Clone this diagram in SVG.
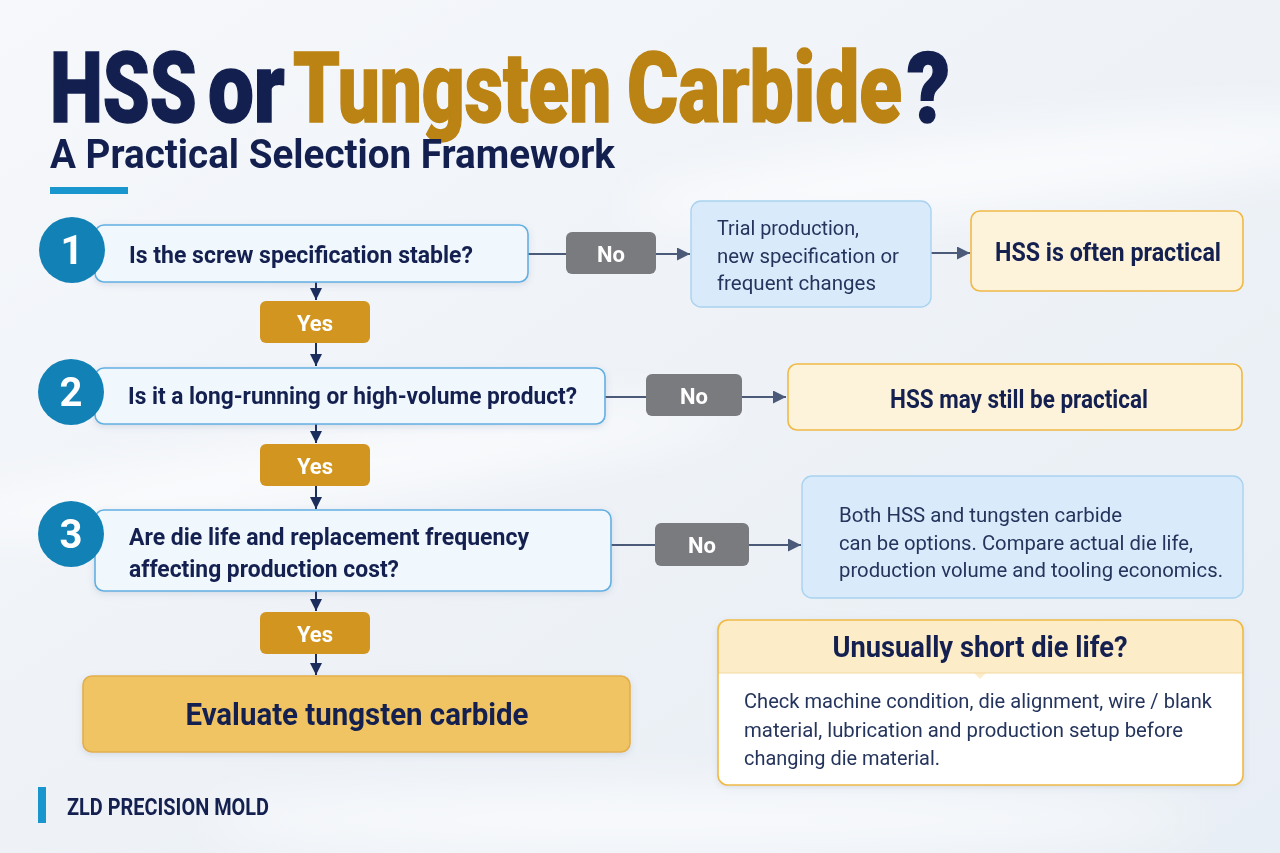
<svg xmlns="http://www.w3.org/2000/svg" width="1280" height="853" viewBox="0 0 1280 853">
<defs>
<linearGradient id="bg" x1="0" y1="0" x2="1" y2="1">
<stop offset="0" stop-color="#f6f8fb"/>
<stop offset="0.5" stop-color="#eef2f7"/>
<stop offset="1" stop-color="#e8eef5"/>
</linearGradient>
<filter id="blur" x="-20%" y="-200%" width="140%" height="500%">
<feGaussianBlur stdDeviation="25"/>
</filter>
<filter id="sh" x="-10%" y="-20%" width="120%" height="150%">
<feDropShadow dx="0" dy="2" stdDeviation="3" flood-color="#5a7090" flood-opacity="0.18"/>
</filter>
<marker id="ah" viewBox="0 0 10 10" refX="10" refY="5" markerWidth="12" markerHeight="12" markerUnits="userSpaceOnUse" orient="auto">
<path d="M0,0 L10,5 L0,10 z" fill="#1b2d5c"/>
</marker>
<marker id="ahg" viewBox="0 0 10 10" refX="10" refY="5" markerWidth="13" markerHeight="13" markerUnits="userSpaceOnUse" orient="auto">
<path d="M0,0 L10,5 L0,10 z" fill="#4a5a78"/>
</marker>
<style>
.tt{font-family:Roboto,"Liberation Sans",sans-serif;font-weight:900;font-size:98px;stroke-width:1.5}
.navy{fill:#13204f;stroke:#13204f}
.gold{fill:#bb8313;stroke:#bb8313}
.q{fill:#f0f7fd;stroke:#62afe2;stroke-width:1.6}
.circ{fill:#1282b6}
.num{font-family:Roboto,"Liberation Sans",sans-serif;font-weight:700;font-size:40px;fill:#fff;text-anchor:middle}
.qt{font-family:Roboto,"Liberation Sans",sans-serif;font-weight:700;font-size:23px;fill:#14204f}
.yes{fill:#d2951f}
.no{fill:#7a7b7e}
.lbl{font-family:Roboto,"Liberation Sans",sans-serif;font-weight:700;font-size:22px;fill:#fff;text-anchor:middle}
.info{fill:#d9ebfa;stroke:#a9d2f0;stroke-width:1.4}
.it{font-family:Roboto,"Liberation Sans",sans-serif;font-weight:400;font-size:21px;fill:#24345c}
.res{fill:#fdf2da;stroke:#f0b945;stroke-width:1.6}
.rt{font-family:Roboto,"Liberation Sans",sans-serif;font-weight:700;font-size:26px;fill:#14204f;text-anchor:middle}
.vl{stroke:#1b2d5c;stroke-width:2;fill:none}
.hl{stroke:#4a5a78;stroke-width:2;fill:none}
</style>
</defs>
<rect width="1280" height="853" fill="url(#bg)"/>
<g filter="url(#blur)" opacity="0.7">
<ellipse cx="320" cy="470" rx="420" ry="30" fill="#ffffff" transform="rotate(-8 320 470)"/>
<ellipse cx="1000" cy="170" rx="380" ry="35" fill="#ffffff" transform="rotate(-6 1000 170)"/>
<ellipse cx="700" cy="820" rx="500" ry="30" fill="#ffffff"/>
</g>

<g id="title">
<text class="tt navy" transform="translate(50,122) scale(0.745,1)" textLength="197" lengthAdjust="spacingAndGlyphs">HSS</text>
<text class="tt navy" transform="translate(208,122) scale(0.8,1)" textLength="96" lengthAdjust="spacingAndGlyphs">or</text>
<text class="tt gold" transform="translate(293,122) scale(0.73,1)" textLength="436" lengthAdjust="spacingAndGlyphs">Tungsten</text>
<text class="tt gold" transform="translate(627,122) scale(0.77,1)" textLength="357" lengthAdjust="spacingAndGlyphs">Carbide</text>
<text class="tt navy" transform="translate(907,122) scale(0.88,1)" textLength="49" lengthAdjust="spacingAndGlyphs">?</text>
<text x="50" y="168" font-family="Roboto,'Liberation Sans',sans-serif" font-weight="700" font-size="41" fill="#13204f" textLength="565" lengthAdjust="spacingAndGlyphs">A Practical Selection Framework</text>
<rect x="50" y="187" width="78" height="7" fill="#1a96cf"/>
</g>

<g id="connectors">
<line class="vl" x1="316" y1="282" x2="316" y2="300" marker-end="url(#ah)"/>
<line class="vl" x1="316" y1="343" x2="316" y2="366" marker-end="url(#ah)"/>
<line class="vl" x1="316" y1="424" x2="316" y2="443" marker-end="url(#ah)"/>
<line class="vl" x1="316" y1="486" x2="316" y2="509" marker-end="url(#ah)"/>
<line class="vl" x1="316" y1="591" x2="316" y2="611" marker-end="url(#ah)"/>
<line class="vl" x1="316" y1="654" x2="316" y2="675" marker-end="url(#ah)"/>
<line class="hl" x1="528" y1="254" x2="566" y2="254"/>
<line class="hl" x1="656" y1="254" x2="690" y2="254" marker-end="url(#ahg)"/>
<line class="hl" x1="931" y1="253" x2="970" y2="253" marker-end="url(#ahg)"/>
<line class="hl" x1="605" y1="397" x2="646" y2="397"/>
<line class="hl" x1="742" y1="397" x2="786" y2="397" marker-end="url(#ahg)"/>
<line class="hl" x1="611" y1="545" x2="655" y2="545"/>
<line class="hl" x1="749" y1="545" x2="801" y2="545" marker-end="url(#ahg)"/>
</g>

<g id="q1">
<rect class="q" x="95" y="225" width="433" height="57" rx="9" filter="url(#sh)"/>
<circle class="circ" cx="72" cy="250" r="33"/>
<text class="num" x="72" y="264">1</text>
<text class="qt" x="129" y="263" textLength="344" lengthAdjust="spacingAndGlyphs">Is the screw specification stable?</text>
</g>
<g id="no1">
<rect class="no" x="566" y="232" width="90" height="42" rx="6"/>
<text class="lbl" x="611" y="262">No</text>
</g>
<g id="trial">
<rect class="info" x="691" y="201" width="240" height="106" rx="10"/>
<text class="it" x="717" y="235" textLength="142" lengthAdjust="spacingAndGlyphs">Trial production,</text>
<text class="it" x="717" y="263" textLength="182" lengthAdjust="spacingAndGlyphs">new specification or</text>
<text class="it" x="717" y="290" textLength="159" lengthAdjust="spacingAndGlyphs">frequent changes</text>
</g>
<g id="hss1">
<rect class="res" x="971" y="211" width="272" height="80" rx="9"/>
<text class="rt" x="1108" y="261" textLength="226" lengthAdjust="spacingAndGlyphs">HSS is often practical</text>
</g>
<g id="yes1">
<rect class="yes" x="260" y="301" width="110" height="42" rx="6"/>
<text class="lbl" x="315" y="331">Yes</text>
</g>

<g id="q2">
<rect class="q" x="95" y="368" width="510" height="56" rx="9" filter="url(#sh)"/>
<circle class="circ" cx="71" cy="392" r="33"/>
<text class="num" x="71" y="406">2</text>
<text class="qt" x="128" y="404" textLength="449" lengthAdjust="spacingAndGlyphs">Is it a long-running or high-volume product?</text>
</g>
<g id="no2">
<rect class="no" x="646" y="374" width="96" height="42" rx="6"/>
<text class="lbl" x="694" y="404">No</text>
</g>
<g id="hss2">
<rect class="res" x="788" y="364" width="454" height="66" rx="9"/>
<text class="rt" x="1019" y="408" textLength="258" lengthAdjust="spacingAndGlyphs">HSS may still be practical</text>
</g>
<g id="yes2">
<rect class="yes" x="260" y="444" width="110" height="42" rx="6"/>
<text class="lbl" x="315" y="474">Yes</text>
</g>

<g id="q3">
<rect class="q" x="95" y="510" width="516" height="81" rx="9" filter="url(#sh)"/>
<circle class="circ" cx="71" cy="534" r="33"/>
<text class="num" x="71" y="548">3</text>
<text class="qt" x="129" y="545" textLength="400" lengthAdjust="spacingAndGlyphs">Are die life and replacement frequency</text>
<text class="qt" x="129" y="577" textLength="270" lengthAdjust="spacingAndGlyphs">affecting production cost?</text>
</g>
<g id="no3">
<rect class="no" x="655" y="523" width="94" height="43" rx="6"/>
<text class="lbl" x="702" y="553">No</text>
</g>
<g id="both">
<rect class="info" x="802" y="476" width="441" height="122" rx="10"/>
<text class="it" x="839" y="522" textLength="283" lengthAdjust="spacingAndGlyphs">Both HSS and tungsten carbide</text>
<text class="it" x="839" y="550" textLength="354" lengthAdjust="spacingAndGlyphs">can be options. Compare actual die life,</text>
<text class="it" x="839" y="577" textLength="384" lengthAdjust="spacingAndGlyphs">production volume and tooling economics.</text>
</g>
<g id="yes3">
<rect class="yes" x="260" y="612" width="110" height="42" rx="6"/>
<text class="lbl" x="315" y="642">Yes</text>
</g>

<g id="evaluate">
<rect x="83" y="676" width="547" height="76" rx="9" fill="#f0c462" stroke="#e2ae4c" stroke-width="1.6" filter="url(#sh)"/>
<text x="357" y="725" font-family="Roboto,'Liberation Sans',sans-serif" font-weight="700" font-size="32" fill="#14204f" text-anchor="middle" textLength="343" lengthAdjust="spacingAndGlyphs">Evaluate tungsten carbide</text>
</g>

<g id="unusual">
<rect x="718" y="620" width="525" height="165" rx="10" fill="#ffffff" filter="url(#sh)"/>
<path d="M718,673 V630 a10,10 0 0 1 10,-10 H1233 a10,10 0 0 1 10,10 V673 z" fill="#fdecc8"/>
<polygon points="974,673 986,673 980,679" fill="#fdecc8"/>
<line x1="718" y1="673" x2="1243" y2="673" stroke="#f3d9a0" stroke-width="1"/>
<rect x="718" y="620" width="525" height="165" rx="10" fill="none" stroke="#f0b945" stroke-width="1.6"/>
<text x="980" y="657" font-family="Roboto,'Liberation Sans',sans-serif" font-weight="700" font-size="30" fill="#14204f" text-anchor="middle" textLength="295" lengthAdjust="spacingAndGlyphs">Unusually short die life?</text>
<text class="it" x="744" y="708" font-size="21.5" textLength="468" lengthAdjust="spacingAndGlyphs">Check machine condition, die alignment, wire / blank</text>
<text class="it" x="744" y="737" font-size="21.5" textLength="439" lengthAdjust="spacingAndGlyphs">material, lubrication and production setup before</text>
<text class="it" x="744" y="765" font-size="21.5" textLength="196" lengthAdjust="spacingAndGlyphs">changing die material.</text>
</g>

<g id="footer">
<rect x="38" y="787" width="8" height="36" fill="#1a96cf"/>
<text x="67" y="815" font-family="Roboto,'Liberation Sans',sans-serif" font-weight="700" font-size="23" fill="#14204f" textLength="202" lengthAdjust="spacingAndGlyphs">ZLD PRECISION MOLD</text>
</g>
</svg>
